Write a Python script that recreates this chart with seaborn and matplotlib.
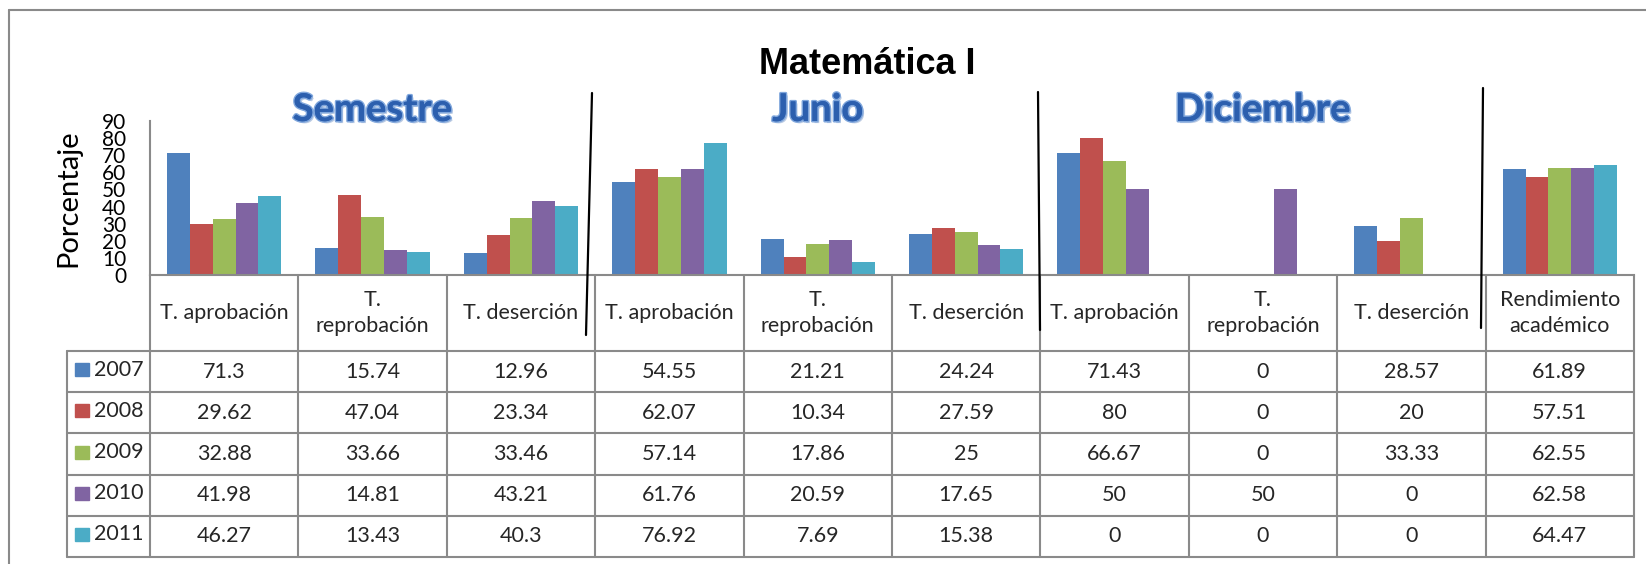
import matplotlib
matplotlib.use("Agg")
import matplotlib.pyplot as plt
import matplotlib.patheffects as pe
from matplotlib.lines import Line2D
from matplotlib.patches import Rectangle
import seaborn as sns
import pandas as pd

# Data
anios = ["2007", "2008", "2009", "2010", "2011"]
periodos = ["Semestre", "Junio", "Diciembre"]
indicadores = ["T. aprobación", "T.\nreprobación", "T. deserción"]
etiquetas = indicadores * 3 + ["Rendimiento\nacadémico"]
v2007 = [71.3, 15.74, 12.96, 54.55, 21.21, 24.24, 71.43, 0, 28.57, 61.89]
v2008 = [29.62, 47.04, 23.34, 62.07, 10.34, 27.59, 80, 0, 20, 57.51]
v2009 = [32.88, 33.66, 33.46, 57.14, 17.86, 25, 66.67, 0, 33.33, 62.55]
v2010 = [41.98, 14.81, 43.21, 61.76, 20.59, 17.65, 50, 50, 0, 62.58]
v2011 = [46.27, 13.43, 40.3, 76.92, 7.69, 15.38, 0, 0, 0, 64.47]
valores = [v2007, v2008, v2009, v2010, v2011]
colores = ["#4F81BD", "#C0504D", "#9BBB59", "#8064A2", "#4BACC6"]

claves = [f"{p}: {i}" for p in periodos for i in indicadores] + ["Rendimiento"]
df = pd.DataFrame([
    {"clave": claves[c], "anio": anios[s], "valor": valores[s][c]}
    for s in range(len(anios)) for c in range(len(claves))
])

# Layout helpers (pixel positions in the 1646x564 figure)
W, H = 1646, 564
def fx(px): return px / W
def fy(py): return 1 - py / H

GRIS = "#8a8a8a"
sns.set_theme(style="white")
plt.rcParams['font.family'] = ['Lato', 'DejaVu Sans']

fig = plt.figure(figsize=(W / 100, H / 100), dpi=100)
fig.patch.set_facecolor("white")

ax = fig.add_axes([fx(150), fy(275), fx(1634) - fx(150), fy(121) - fy(275)])
sns.barplot(data=df, x="clave", y="valor", hue="anio", order=claves, hue_order=anios,
            palette=colores, width=0.77, saturation=1, linewidth=0, errorbar=None,
            legend=False, ax=ax)
ax.set_xlim(-0.5, len(claves) - 0.5)
ax.set_ylim(0, 90)
ax.set_yticks(range(0, 91, 10))
ax.set_xticks([])
ax.set_xlabel("")
ax.set_ylabel("Porcentaje", fontsize=21, labelpad=15, color="black")
ax.tick_params(axis="y", length=0, pad=17, labelsize=15, labelcolor="black")
for s in ["top", "right"]:
    ax.spines[s].set_visible(False)
for s in ["left", "bottom"]:
    ax.spines[s].set_color(GRIS)
    ax.spines[s].set_linewidth(1.5)
ax.set_facecolor("white")

# Period headers
efecto = [pe.withSimplePatchShadow(offset=(1.5, -1.5), shadow_rgbFace="#9fb6d8", alpha=0.7),
          pe.withStroke(linewidth=2.2, foreground="#7fa6dc"), pe.Normal()]
for k, p in enumerate(periodos):
    ax.text(3 * k + 1, (275 - 110) / 154, p, transform=ax.get_xaxis_transform(),
            ha="center", va="center", fontsize=27.5, fontweight="bold", color="#2c5fae",
            path_effects=efecto)

fig.text(fx(867), fy(65), "Matemática I", ha="center", va="center", fontsize=26,
         fontweight="bold", family=["Liberation Sans", "DejaVu Sans"], color="black")

# Data table below the plot
col_px = (1634 - 150) / len(claves)
x_izq = -0.5 - (150 - 67) / col_px
head_h, row_h = 76, 41.2
tabla_h = head_h + row_h * len(anios)
tax = fig.add_axes([fx(67), fy(557), fx(1634) - fx(67), fy(275) - fy(557)])
tax.set_xlim(x_izq, len(claves) - 0.5)
tax.set_ylim(tabla_h, 0)
tax.axis("off")

for b in range(len(claves) + 1):
    tax.plot([b - 0.5, b - 0.5], [0, tabla_h], color=GRIS, lw=1.5, clip_on=False)
tax.plot([x_izq, x_izq], [head_h, tabla_h], color=GRIS, lw=1.5, clip_on=False)
for r in range(len(anios) + 1):
    y = head_h + r * row_h
    tax.plot([x_izq, len(claves) - 0.5], [y, y], color=GRIS, lw=1.5, clip_on=False)

for i, et in enumerate(etiquetas):
    tax.text(i, head_h / 2, et, ha="center", va="center", fontsize=15.5, linespacing=1.35)

for r, anio in enumerate(anios):
    yc = head_h + row_h * (r + 0.5)
    for i in range(len(claves)):
        tax.text(i, yc, f"{valores[r][i]:g}", ha="center", va="center", fontsize=15.5)
    tax.add_patch(Rectangle(((75 - 150) / col_px - 0.5, yc - 8.5), 14 / col_px, 13,
                            color=colores[r], clip_on=False))
    tax.text((94 - 150) / col_px - 0.5, yc - 2, anio, ha="left", va="center", fontsize=15.5)

# Hand-drawn separators and chart frame
for (x0, y0, x1, y1) in [(592, 93, 586, 335), (1038, 92, 1040, 330), (1483, 88, 1481, 328)]:
    fig.add_artist(Line2D([fx(x0), fx(x1)], [fy(y0), fy(y1)], color="black", lw=1.6))
fig.add_artist(Line2D([fx(9), 1], [fy(10), fy(10)], color=GRIS, lw=1.5))
fig.add_artist(Line2D([fx(9), fx(9)], [fy(10), 0], color=GRIS, lw=1.5))

fig.savefig("out.png", dpi=100)
